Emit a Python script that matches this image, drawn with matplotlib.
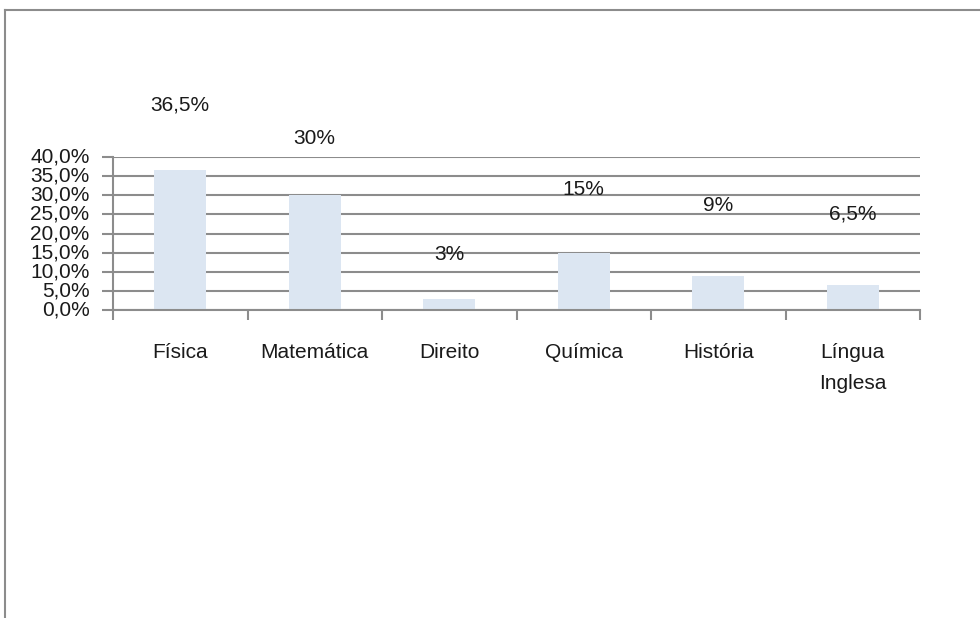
import matplotlib
matplotlib.use("Agg")
import matplotlib.pyplot as plt
import numpy as np

# Chart data
categories = ['Física', 'Matemática', 'Direito', 'Química', 'História', 'Língua\nInglesa']
values = [36.5, 30, 3, 15, 9, 6.5]
value_labels = ['36,5%', '30%', '3%', '15%', '9%', '6,5%']
y_ticks = [0, 5, 10, 15, 20, 25, 30, 35, 40]
y_tick_labels = ['0,0%', '5,0%', '10,0%', '15,0%', '20,0%', '25,0%', '30,0%', '35,0%', '40,0%']

# Label heights (data units), placed by hand in the original
label_heights = [53.5, 44.9, 14.4, 31.6, 27.4, 25.1]


def main():
    plt.rcParams['font.family'] = ['Liberation Sans', 'DejaVu Sans']
    grey = '#8c8c8c'
    fs = 15

    fig = plt.figure(figsize=(9.8, 6.18), dpi=100)
    ax = fig.add_axes([113 / 980, 1 - 310 / 618, (920 - 113) / 980, (310 - 157) / 618])

    x = np.arange(len(categories)) + 0.5
    ax.bar(x, values, width=0.39, color='#dce6f2', zorder=2)

    # Data labels
    for xi, lab, h in zip(x, value_labels, label_heights):
        ax.text(xi, h, lab, ha='center', va='center', fontsize=fs,
                color='#1a1a1a', clip_on=False, zorder=3)

    ax.set_xlim(0, len(categories))
    ax.set_ylim(0, 40)
    ax.set_yticks(y_ticks)
    ax.set_yticklabels(y_tick_labels, fontsize=fs, color='#1a1a1a')
    ax.yaxis.grid(True, color=grey, linewidth=1.5, zorder=1)

    # Category labels at centers, tick marks at boundaries
    ax.set_xticks(np.arange(len(categories) + 1))
    ax.set_xticklabels([])
    ax.set_xticks(x, minor=True)
    ax.set_xticklabels(categories, minor=True, fontsize=fs, color='#1a1a1a',
                       linespacing=1.75, va='top')
    ax.tick_params(axis='x', which='minor', length=0, pad=24)
    ax.tick_params(axis='x', which='major', length=7, width=1.5, color=grey)
    ax.tick_params(axis='y', length=8, width=1.5, color=grey, pad=9)
    for lab in ax.get_yticklabels():
        lab.set_verticalalignment('center')

    for side in ['top', 'right']:
        ax.spines[side].set_visible(False)
    for side in ['left', 'bottom']:
        ax.spines[side].set_color(grey)
        ax.spines[side].set_linewidth(1.5)

    # Outer chart border (top and left only visible)
    fig.add_artist(plt.Line2D([4.5 / 980, 1], [1 - 9.5 / 618, 1 - 9.5 / 618],
                              color=grey, linewidth=1.5, transform=fig.transFigure))
    fig.add_artist(plt.Line2D([4.5 / 980, 4.5 / 980], [0, 1 - 9.5 / 618],
                              color=grey, linewidth=1.5, transform=fig.transFigure))

    fig.savefig('out.png', dpi=100)


if __name__ == "__main__":
    main()
